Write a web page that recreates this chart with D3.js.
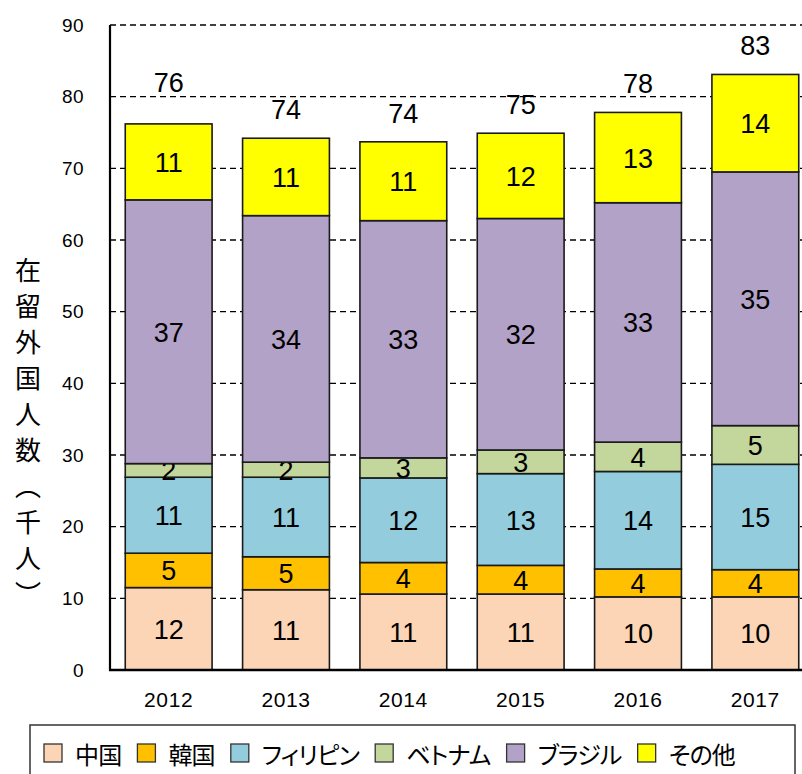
<!DOCTYPE html>
<html>
<head>
<meta charset="utf-8">
<script src="https://cdn.jsdelivr.net/npm/d3@7"></script>
<style>
  html, body { margin: 0; padding: 0; background: #fff; overflow: hidden; }
  svg { display: block; }
</style>
</head>
<body>
<svg id="chart" width="802" height="774"></svg>
<script>
// ---- data ----
const years = ["2012", "2013", "2014", "2015", "2016", "2017"];
const seriesNames = ["中国", "韓国", "フィリピン", "ベトナム", "ブラジル", "その他"];
const china       = [11.5, 11.2, 10.6, 10.6, 10.2, 10.2];
const korea       = [4.8, 4.6, 4.4, 4.0, 3.9, 3.8];
const philippines = [10.6, 11.1, 11.8, 12.8, 13.6, 14.7];
const vietnam     = [1.9, 2.1, 2.8, 3.3, 4.1, 5.4];
const brazil      = [36.8, 34.4, 33.1, 32.3, 33.4, 35.4];
const other       = [10.6, 10.8, 11.0, 11.9, 12.6, 13.6];
const yTicks = [0, 10, 20, 30, 40, 50, 60, 70, 80, 90];
const yTitle = "在留外国人数（千人）";

// ---- style ----
const colors = ["#FBD5B5", "#FFC000", "#93CDDD", "#C3D69B", "#B3A2C7", "#FFFF00"];
const numFont = "'Liberation Sans', Arial, sans-serif";
const jpFont = "'Noto Sans CJK JP', 'Noto Sans', sans-serif";
const totalNudge = { "2012": -13 };

const seriesValues = [china, korea, philippines, vietnam, brazil, other];
const table = years.map((y, i) => {
  const row = { year: y };
  seriesNames.forEach((s, k) => row[s] = seriesValues[k][i]);
  return row;
});
const stacked = d3.stack().keys(seriesNames)(table);

const svg = d3.select("#chart");
const x = d3.scaleBand().domain(years).range([110, 814]).paddingInner(0.26).paddingOuter(0.13);
const y = d3.scaleLinear().domain([0, 90]).range([670, 25]);

// gridlines
svg.append("g").selectAll("line").data(yTicks.filter(t => t > 0)).join("line")
  .attr("x1", 110).attr("x2", 814)
  .attr("y1", d => y(d)).attr("y2", d => y(d))
  .attr("stroke", "#000").attr("stroke-width", 1.3)
  .attr("stroke-dasharray", "6,4");

// y tick labels
svg.append("g").selectAll("text").data(yTicks).join("text")
  .attr("x", 84).attr("y", d => y(d))
  .attr("text-anchor", "end").attr("dominant-baseline", "central")
  .attr("font-family", numFont).attr("font-size", 19).attr("letter-spacing", 0.4).attr("fill", "#000")
  .text(d => d);

// bars
const layers = svg.append("g").selectAll("g").data(stacked).join("g")
  .attr("fill", (d, i) => colors[i]);
layers.selectAll("rect").data(d => d).join("rect")
  .attr("x", d => x(d.data.year))
  .attr("width", x.bandwidth())
  .attr("y", d => y(d[1]))
  .attr("height", d => y(d[0]) - y(d[1]))
  .attr("stroke", "#1a1a1a").attr("stroke-width", 1.6);

// segment labels
layers.selectAll("text").data(d => d).join("text")
  .attr("x", d => x(d.data.year) + x.bandwidth() / 2)
  .attr("y", d => (y(d[0]) + y(d[1])) / 2 + 1)
  .attr("text-anchor", "middle").attr("dominant-baseline", "central")
  .attr("font-family", numFont).attr("font-size", 27).attr("fill", "#000")
  .text(d => Math.round(d[1] - d[0]));

// totals
const totals = table.map((row, i) => ({ year: row.year, total: d3.sum(seriesValues, s => s[i]) }));
svg.append("g").selectAll("text").data(totals).join("text")
  .attr("x", d => x(d.year) + x.bandwidth() / 2)
  .attr("y", d => y(d.total) - 28 + (totalNudge[d.year] || 0))
  .attr("text-anchor", "middle").attr("dominant-baseline", "central")
  .attr("font-family", numFont).attr("font-size", 27).attr("fill", "#000")
  .text(d => Math.round(d.total));

// axes lines
svg.append("line").attr("x1", 110).attr("x2", 110).attr("y1", 25).attr("y2", 671)
  .attr("stroke", "#000").attr("stroke-width", 2.2);
svg.append("line").attr("x1", 109).attr("x2", 814).attr("y1", 670).attr("y2", 670)
  .attr("stroke", "#000").attr("stroke-width", 2.6);

// x labels
svg.append("g").selectAll("text").data(years).join("text")
  .attr("x", d => x(d) + x.bandwidth() / 2).attr("y", 699)
  .attr("text-anchor", "middle").attr("dominant-baseline", "central")
  .attr("font-family", numFont).attr("font-size", 21).attr("letter-spacing", 0.6).attr("fill", "#000")
  .text(d => d);

// y title (vertical)
svg.append("text")
  .attr("x", 28).attr("y", 257)
  .attr("font-family", jpFont).attr("font-size", 26).attr("fill", "#000")
  .style("writing-mode", "vertical-rl")
  .attr("letter-spacing", 10)
  .text(yTitle);

// legend
svg.append("rect").attr("x", 30).attr("y", 725).attr("width", 765).attr("height", 80)
  .attr("fill", "#fff").attr("stroke", "#333").attr("stroke-width", 1.5);
const leg = svg.append("g");
let lx = 44;
seriesNames.forEach((name, i) => {
  leg.append("rect").attr("x", lx).attr("y", 744).attr("width", 18).attr("height", 18)
    .attr("fill", colors[i]).attr("stroke", "#333").attr("stroke-width", 1.3);
  const t = leg.append("text").attr("x", lx + 31).attr("y", 753)
    .attr("dominant-baseline", "central")
    .attr("font-family", jpFont).attr("font-size", 24).attr("fill", "#000")
    .attr("letter-spacing", -0.8)
    .style("font-feature-settings", "'palt'")
    .text(name);
  lx += 31 + t.node().getComputedTextLength() + 16;
});
</script>
</body>
</html>
